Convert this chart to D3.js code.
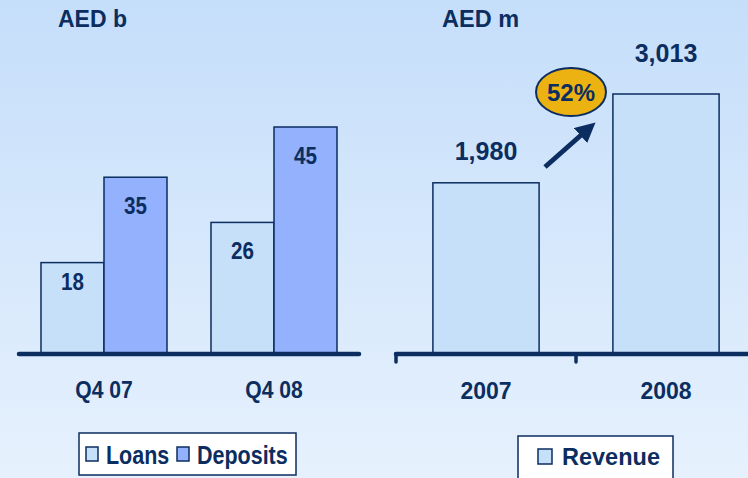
<!DOCTYPE html>
<html><head><meta charset="utf-8">
<script src="https://cdn.jsdelivr.net/npm/d3@7/dist/d3.min.js"></script>
<style>html,body{margin:0;padding:0;overflow:hidden;}svg{display:block;}</style>
</head><body>
<script>
// Left chart data (AED b)
const quarters = ["Q4 07", "Q4 08"];
const seriesNames = ["Loans", "Deposits"];
const loans = [18, 26];
const deposits = [35, 45];
// Right chart data (AED m)
const years = ["2007", "2008"];
const revenue = [1980, 3013];
const revenueLabels = ["1,980", "3,013"];
const growthLabel = "52%";

const W = 748, H = 478;
const navy = "#0b2d60";
const loanColor = "#c6e0fa", depColor = "#93b1fc";
const font = "'Liberation Sans', Arial, sans-serif";

const svg = d3.select("body").append("svg").attr("width", W).attr("height", H);
const defs = svg.append("defs");
const grad = defs.append("linearGradient").attr("id","bg").attr("x1",0).attr("y1",0).attr("x2",0).attr("y2",1);
grad.append("stop").attr("offset","0%").attr("stop-color","#c5defa");
grad.append("stop").attr("offset","100%").attr("stop-color","#e6f1fd");
svg.append("rect").attr("width",W).attr("height",H).attr("fill","url(#bg)");

const baseY = 353;
function squeeze(sel, cx, k){ return sel.attr("transform", `translate(${cx},0) scale(${k},1) translate(${-cx},0)`); }

// ---------- Left chart ----------
const xLc = d3.scalePoint().domain(quarters).range([104, 274]);
const sub = d3.scaleBand().domain(seriesNames).range([-63, 63]);
const yL = d3.scaleLinear().domain([0, 45]).range([baseY, baseY - 226]);

const gL = svg.append("g");
const leftData = [];
quarters.forEach((q,i)=>{
  leftData.push({q, s:"Loans", v:loans[i], c:loanColor});
  leftData.push({q, s:"Deposits", v:deposits[i], c:depColor});
});
gL.selectAll("rect.bar").data(leftData).join("rect")
  .attr("x", d=>xLc(d.q)+sub(d.s))
  .attr("y", d=>yL(d.v))
  .attr("width", sub.bandwidth())
  .attr("height", d=>baseY - yL(d.v))
  .attr("fill", d=>d.c).attr("stroke", navy).attr("stroke-width",1.5);
gL.selectAll("text.val").data(leftData).join("text")
  .each(function(d){
    const cx = xLc(d.q)+sub(d.s)+sub.bandwidth()/2;
    const t = d3.select(this)
      .attr("x", cx)
      .attr("y", yL(d.v) + (d.v < 20 ? 27 : 37))
      .attr("text-anchor","middle")
      .attr("font-family",font).attr("font-weight","bold").attr("font-size",24)
      .attr("fill",navy).text(d.v);
    squeeze(t, cx, 0.86);
  });
gL.append("line").attr("x1",19).attr("x2",359).attr("y1",baseY+1).attr("y2",baseY+1)
  .attr("stroke",navy).attr("stroke-width",4.5).attr("stroke-linecap","round");
gL.selectAll("text.cat").data(quarters).join("text")
  .each(function(d){
    const t = d3.select(this).attr("x", xLc(d)).attr("y", 398)
      .attr("text-anchor","middle").attr("font-family",font).attr("font-weight","bold").attr("font-size",24)
      .attr("fill",navy).text(d);
    squeeze(t, xLc(d), 0.88);
  });
svg.append("text").attr("x",58).attr("y",27).attr("font-family",font).attr("font-weight","bold")
  .attr("font-size",23).attr("fill",navy).text("AED b");

// Left legend
const lg = svg.append("g");
lg.append("rect").attr("x",79).attr("y",433).attr("width",217).attr("height",42)
  .attr("fill","#ffffff").attr("stroke",navy).attr("stroke-width",1.5);
const legItems = [{s:seriesNames[0], c:loanColor, sx:86, tx:106},{s:seriesNames[1], c:depColor, sx:177, tx:197}];
legItems.forEach(it=>{
  lg.append("rect").attr("x",it.sx).attr("y",447).attr("width",12).attr("height",14)
    .attr("fill",it.c).attr("stroke",navy).attr("stroke-width",1.5);
  const t = lg.append("text").attr("x",it.tx).attr("y",464).attr("font-family",font).attr("font-weight","bold")
    .attr("font-size",25).attr("fill",navy).text(it.s);
  squeeze(t, it.tx, 0.86);
});

// ---------- Right chart ----------
const xR = d3.scaleBand().domain(years).range([396, 756]).paddingInner(0.41).paddingOuter(0.205);
const yR = d3.scaleLinear().domain([0, 3013]).range([baseY, baseY - 259]);
const gR = svg.append("g");
gR.selectAll("rect").data(revenue).join("rect")
  .attr("x",(d,i)=>xR(years[i])).attr("y",d=>yR(d))
  .attr("width",xR.bandwidth()).attr("height",d=>baseY-yR(d))
  .attr("fill",loanColor).attr("stroke",navy).attr("stroke-width",1.5);
gR.selectAll("text.val").data(revenue).join("text")
  .attr("x",(d,i)=>xR(years[i])+xR.bandwidth()/2).attr("y",d=>yR(d)-(d > 2500 ? 32 : 23))
  .attr("text-anchor","middle").attr("font-family",font).attr("font-weight","bold").attr("font-size",25)
  .attr("fill",navy).text((d,i)=>revenueLabels[i]);
gR.append("line").attr("x1",396).attr("x2",760).attr("y1",baseY+1).attr("y2",baseY+1)
  .attr("stroke",navy).attr("stroke-width",4.5).attr("stroke-linecap","round");
[396, 576].forEach(x=>{
  gR.append("line").attr("x1",x).attr("x2",x).attr("y1",baseY+1).attr("y2",362)
    .attr("stroke",navy).attr("stroke-width",3.5).attr("stroke-linecap","round");
});
gR.selectAll("text.cat").data(years).join("text")
  .attr("x",d=>xR(d)+xR.bandwidth()/2).attr("y",399)
  .attr("text-anchor","middle").attr("font-family",font).attr("font-weight","bold").attr("font-size",23)
  .attr("fill",navy).text(d=>d);
svg.append("text").attr("x",442).attr("y",27).attr("font-family",font).attr("font-weight","bold")
  .attr("font-size",23.5).attr("fill",navy).text("AED m");

// Growth arrow
defs.append("marker").attr("id","ah").attr("viewBox","0 0 10 10").attr("refX",5).attr("refY",5)
  .attr("markerWidth",4).attr("markerHeight",4).attr("orient","auto")
  .append("path").attr("d","M0,0 L10,5 L0,10 Z").attr("fill",navy);
svg.append("line").attr("x1",545).attr("y1",167).attr("x2",588).attr("y2",129)
  .attr("stroke",navy).attr("stroke-width",5).attr("marker-end","url(#ah)");
svg.append("ellipse").attr("cx",571).attr("cy",92).attr("rx",35).attr("ry",24)
  .attr("fill","#ecb212").attr("stroke",navy).attr("stroke-width",2);
svg.append("text").attr("x",571).attr("y",101).attr("text-anchor","middle").attr("font-family",font)
  .attr("font-weight","bold").attr("font-size",24).attr("fill",navy).text(growthLabel);

// Right legend
const rg = svg.append("g");
rg.append("rect").attr("x",518).attr("y",436).attr("width",155).attr("height",50)
  .attr("fill","#ffffff").attr("stroke",navy).attr("stroke-width",1.5);
rg.append("rect").attr("x",538).attr("y",449).attr("width",14).attr("height",15)
  .attr("fill",loanColor).attr("stroke",navy).attr("stroke-width",1.5);
rg.append("text").attr("x",562).attr("y",465).attr("font-family",font).attr("font-weight","bold")
  .attr("font-size",23.5).attr("fill",navy).text("Revenue");
</script>
</body></html>
